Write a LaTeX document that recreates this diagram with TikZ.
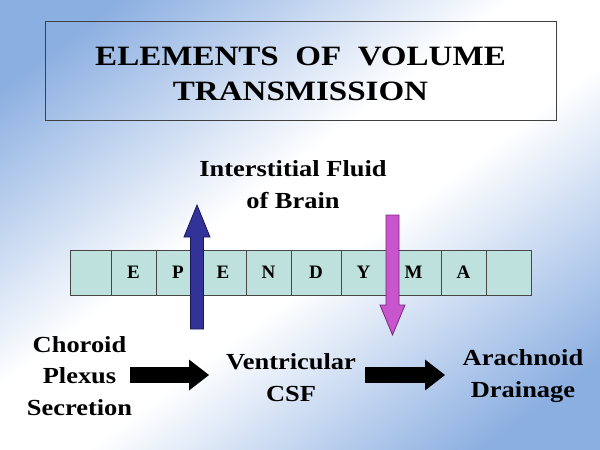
\documentclass[tikz,border=0pt]{standalone}
\usepackage{fontspec}
\setmainfont{Liberation Serif}
\newfontfamily\stretchfont{Liberation Serif}[FakeStretch=1.15]
\newfontfamily\titlefont{Liberation Serif}[FakeStretch=1.18]
\usetikzlibrary{arrows.meta}
\definecolor{bgblue}{RGB}{140,175,225}
\definecolor{cellfill}{RGB}{190,225,222}
\definecolor{cellline}{RGB}{70,70,70}
\definecolor{upblue}{RGB}{50,50,152}
\definecolor{upblueline}{RGB}{25,25,90}
\definecolor{downmag}{RGB}{200,85,205}
\definecolor{downmagline}{RGB}{120,40,125}
\pgfdeclareverticalshading{slidebg}{100bp}{color(0bp)=(bgblue); color(22bp)=(bgblue); color(45bp)=(white); color(55bp)=(white); color(78bp)=(bgblue); color(100bp)=(bgblue)}
\begin{document}
\begin{tikzpicture}[x=1pt,y=-1pt,
  lbl/.style={font=\stretchfont\bfseries\fontsize{23}{31.5}\selectfont, align=center, inner sep=0pt, anchor=base},
  titletext/.style={font=\titlefont\bfseries\fontsize{28}{35}\selectfont, align=center, inner sep=0pt, anchor=base},
  cell/.style={draw=cellline, line width=0.8pt, fill=cellfill, inner sep=0pt, minimum height=45pt,
    font=\bfseries\fontsize{19}{19}\selectfont},
  flowarrow/.style={line width=16pt, -{Triangle[length=20pt,width=31pt,line width=0pt]}},
  uparrow/.style={fill=upblue, draw=upblueline, line width=0.8pt, line join=miter},
  downarrow/.style={fill=downmag, draw=downmagline, line width=0.8pt, line join=miter},
]
\useasboundingbox (0,0) rectangle (600,450);
\shade[shading=slidebg, shading angle=37] (0,0) rectangle (600,450);

% title
\node[draw=black!75, line width=0.8pt, minimum width=511pt, minimum height=99pt, inner sep=0pt] (titlebox) at (300.5,70.5) {};
\node[titletext] (title) at (300.5,100) {ELEMENTS\ \ OF\ \ VOLUME\\TRANSMISSION};

% ependyma cells
\foreach \cx/\w/\t [count=\i] in {90.5/41/{},133.5/45/E,178/44/P,223/46/E,268.5/45/N,316/50/D,363.5/45/Y,413.5/55/M,463.5/45/A,508.5/45/{}}
  \node[cell, minimum width=\w pt] (c\i) at (\cx,272.5) {\t};

% labels (anchor base = baseline of last line)
\node[lbl] (isf) at (293,208) {Interstitial Fluid\\of Brain};
\node[lbl] (cps) at (79.5,415) {Choroid\\Plexus\\Secretion};
\node[lbl] (csf) at (291,401) {Ventricular\\CSF};
\node[lbl] (ad) at (523,397) {Arachnoid\\Drainage};

% up arrow (blue)
\coordinate (ub) at (197,329);
\coordinate (ut) at (197,205);
\draw[uparrow] (ub) ++(-6.5,0) -- ++(0,-92) -- ++(-6.5,0) -- (ut) -- ++(13,32) -- ++(-6.5,0) -- ++(0,92) -- cycle;

% down arrow (magenta)
\coordinate (dt) at (392.5,215);
\coordinate (db) at (392.5,335);
\draw[downarrow] (dt) ++(-6.5,0) -- ++(0,90) -- ++(-6,0) -- (db) -- ++(12.5,-30) -- ++(-6,0) -- ++(0,-90) -- cycle;

% flow arrows
\coordinate (f1s) at (130,375);
\coordinate (f1e) at (209,375);
\coordinate (f2s) at (365,375);
\coordinate (f2e) at (445,375);
\draw[flowarrow] (f1s) -- (f1e);
\draw[flowarrow] (f2s) -- (f2e);
\end{tikzpicture}
\end{document}
